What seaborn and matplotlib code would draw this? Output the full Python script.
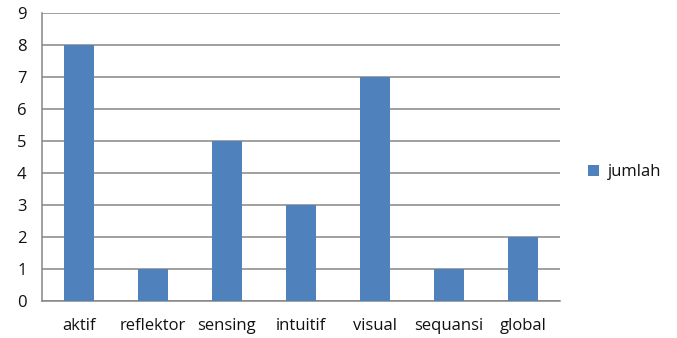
import pandas as pd
import matplotlib
matplotlib.use('Agg')
import matplotlib.pyplot as plt
import seaborn as sns
from matplotlib.ticker import FixedLocator

# data
kategori = ['aktif', 'reflektor', 'sensing', 'intuitif', 'visual', 'sequansi', 'global']
jumlah = [8, 1, 5, 3, 7, 1, 2]

df = pd.DataFrame({'kategori': kategori, 'jumlah': jumlah})

sns.set_style('white')
plt.rcParams['font.family'] = ['Open Sans', 'DejaVu Sans']

fig = plt.figure(figsize=(6.77, 3.38), dpi=100)
ax = fig.add_axes([0.062, 0.109, 0.765, 0.852])

grid_col = '#868686'
sns.barplot(data=df, x='kategori', y='jumlah', color='#4F81BD', width=0.4,
            saturation=1, linewidth=0, label='jumlah', ax=ax, zorder=3)
if ax.get_legend() is not None:
    ax.get_legend().remove()

ax.set_ylim(0, 9)
ax.set_xlim(-0.5, len(kategori) - 0.5)
ax.set_yticks(range(0, 10))
ax.yaxis.grid(True, color=grid_col, linewidth=1.1, zorder=0)
ax.set_axisbelow(True)
ax.set_xlabel('')
ax.set_ylabel('')

for s in ['top', 'right']:
    ax.spines[s].set_visible(False)
for s in ['left', 'bottom']:
    ax.spines[s].set_color(grid_col)
    ax.spines[s].set_linewidth(1.1)

# category ticks sit between the bars, Excel style
ax.xaxis.set_major_locator(FixedLocator(range(len(kategori))))
ax.set_xticklabels(kategori)
ax.xaxis.set_minor_locator(FixedLocator([i - 0.5 for i in range(len(kategori) + 1)]))
ax.tick_params(axis='x', which='major', length=0, pad=12, labelsize=12, colors='#111111')
ax.tick_params(axis='x', which='minor', length=6, width=1.1, color=grid_col, direction='out')
ax.tick_params(axis='y', length=5, width=1.1, color=grid_col, direction='out',
               labelsize=12, labelcolor='#111111', pad=6)

leg = fig.legend(handles=ax.patches[:1], labels=['jumlah'], loc='center left',
                 bbox_to_anchor=(0.846, 0.49), frameon=False, fontsize=12,
                 handlelength=0.7, handleheight=0.7, handletextpad=0.5)
for t in leg.get_texts():
    t.set_color('#111111')

fig.savefig('out.png', dpi=100)
